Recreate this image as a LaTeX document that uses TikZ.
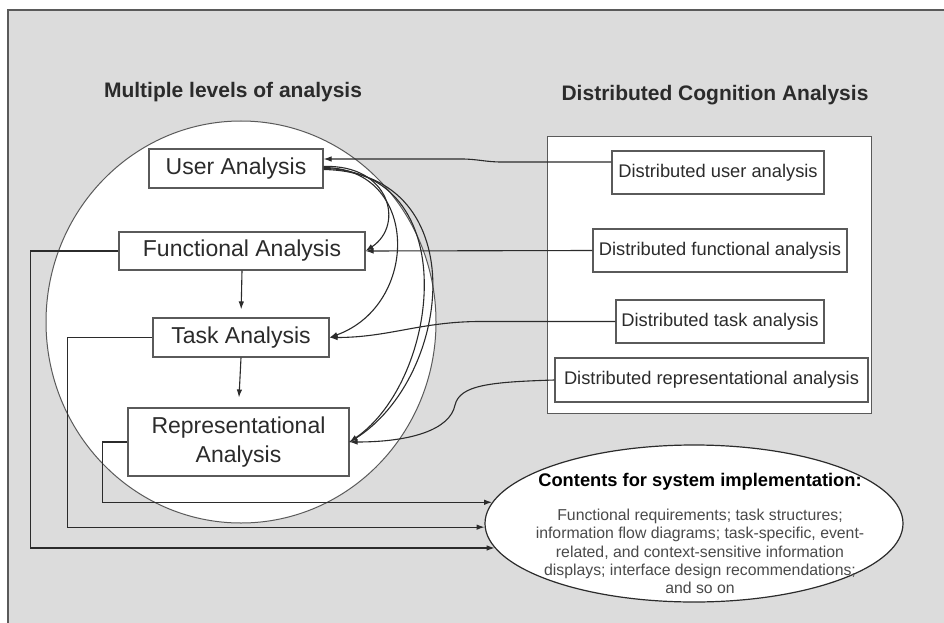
\documentclass[tikz,border=0pt]{standalone}
\usepackage{fontspec}
\setmainfont{Liberation Sans}
\usetikzlibrary{arrows.meta,shapes.geometric,calc}

\definecolor{panel}{HTML}{DCDCDC}
\definecolor{ink}{HTML}{2B2B2B}
\definecolor{edge}{HTML}{5A5A5A}
\definecolor{bodytext}{HTML}{4A4A4A}

\begin{document}
\begin{tikzpicture}[x=1pt,y=-1pt,
  lvl/.style={draw=edge, line width=1.1pt, fill=white, inner sep=0pt,
    font=\fontsize{23}{29}\selectfont, text=ink, align=center},
  dist/.style={draw=edge, line width=1.1pt, fill=white, inner sep=0pt,
    font=\fontsize{18.3}{22}\selectfont, text=ink},
  heading/.style={font=\fontsize{21}{25}\selectfont\bfseries, text=ink},
  arr/.style={draw=ink, line width=1.1pt, -{Latex[length=8pt,width=5.5pt]}},
  link/.style={draw=ink, line width=1.1pt},
]
% canvas and frame
\useasboundingbox (0,0) rectangle (944,623);
\fill[white] (0,0) rectangle (944,623);
\fill[panel] (8,10) rectangle (944,623);
\draw[edge, line width=1.5pt] (8,623) -- (8,10) -- (944,10);

% headings
\node[heading] (hlevels) at (233,92) {Multiple levels of analysis};
\node[heading] (hdist) at (715,95) {Distributed Cognition Analysis};

% large circle holding the levels of analysis
\node[ellipse, draw=edge, line width=1pt, fill=white, inner sep=0pt,
  minimum width=390pt, minimum height=402pt] (levels) at (241,322) {};

% distributed cognition panel
\node[draw=edge, line width=1pt, fill=white, inner sep=0pt,
  minimum width=324pt, minimum height=277pt] (dcpanel) at (709,274.5) {};

% contents ellipse
\node[ellipse, draw=ink, line width=1.2pt, fill=white, inner sep=0pt,
  minimum width=418pt, minimum height=157pt] (contents) at (694,523.5) {};
\node[font=\fontsize{18.3}{22}\selectfont\bfseries, text=black] (ctitle)
  at (700,482) {Contents for system implementation:};
\node[font=\fontsize{15.8}{18.3}\selectfont, text=bodytext, align=center] (cbody)
  at (700,551.5) {Functional requirements; task structures;\\
  information flow diagrams; task-specific, event-\\
  related, and context-sensitive information\\
  displays; interface design recommendations;\\
  and so on};

% levels of analysis
\node[lvl, minimum width=174pt, minimum height=39pt] (ua) at (236,168.5) {User Analysis};
\node[lvl, minimum width=246pt, minimum height=38pt] (fa) at (242,251) {Functional Analysis};
\node[lvl, minimum width=176pt, minimum height=39pt] (ta) at (241,337.5) {Task Analysis};
\node[lvl, minimum width=221pt, minimum height=68pt] (ra) at (238.5,442) {Representational\\Analysis};

% distributed analyses
\node[dist, minimum width=212pt, minimum height=43pt] (dua) at (718,172.5) {Distributed user analysis};
\node[dist, minimum width=254pt, minimum height=43pt] (dfa) at (720,250.5) {Distributed functional analysis};
\node[dist, minimum width=208pt, minimum height=43pt] (dta) at (720,321.5) {Distributed task analysis};
\node[dist, minimum width=313pt, minimum height=44pt] (dra) at (711.5,380) {Distributed representational analysis};

% downward flow between levels
\draw[arr, shorten >=8pt] (fa.south) -- (ta.north);
\draw[arr, shorten >=10pt] (ta.south) -- (ra.north);

% user analysis feeding the lower levels
\draw[arr] ($(ua.east)+(0,-2)$) .. controls (390,164) and (405,225) .. (fa.east);
\draw[arr] ($(ua.east)+(0,-1)$) .. controls (420,168) and (420,305) .. (ta.east);
\draw[arr] ($(ua.east)+(0,0)$) .. controls (465,170) and (440,380) .. (ra.east);
\draw[link] ($(ua.east)+(0,1)$) .. controls (478,172) and (452,385) .. (ra.east);

% distributed analyses feeding the levels
\draw[arr] ($(dua.west)+(0,-10.5)$) -- ++(-110,0) to[out=180,in=0] ++(-40,-3) -- ($(ua.east)+(0,-9.5)$);
\draw[arr] (dfa.west) -- (fa.east);
\draw[arr] (dta.west) -- ++(-135,0) to[out=180,in=0] (ta.east);
\draw[arr] (dra.west) .. controls (490,382) and (460,385) .. (455,405)
  .. controls (450,430) and (410,442) .. (ra.east);

% levels feeding the implementation contents
\draw[arr] (fa.west) -- ++(-88,0) |- (contents.187.0);
\draw[arr] (ta.west) -- ++(-85,0) |- (contents.181.2);
\draw[arr] (ra.west) -- ++(-25,0) |- (contents.174.8);
\end{tikzpicture}
\end{document}
